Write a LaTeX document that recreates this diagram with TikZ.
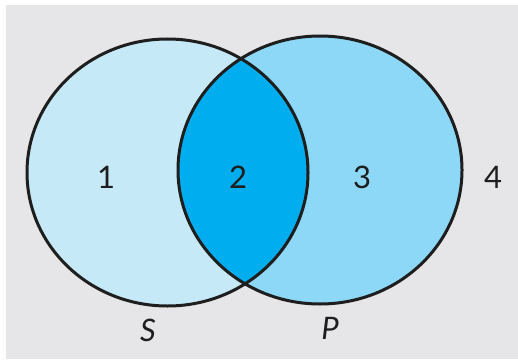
\documentclass[tikz,border=0pt]{standalone}
\usepackage{fontspec}
\setmainfont{Lato}
\definecolor{bgray}{HTML}{E6E6E8}
\definecolor{sblue}{HTML}{C6E9F8}
\definecolor{pblue}{HTML}{8DD8F6}
\definecolor{iblue}{HTML}{00AEEF}
\definecolor{edge}{HTML}{1E1E1E}
\tikzset{
  outline/.style={draw=edge, line width=3pt},
  num/.style={font=\fontsize{31}{31}\selectfont, text=edge, inner sep=0pt},
  lbl/.style={font=\fontsize{31}{31}\selectfont\itshape, text=edge, inner sep=0pt}
}
\begin{document}
\begin{tikzpicture}[x=1pt,y=-1pt]
\useasboundingbox (0,0) rectangle (518,361);
\fill[white] (0,0) rectangle (518,361);
\fill[bgray] (6,5) rectangle (518,359);
% fills
\fill[sblue] (167.5,172.5) ellipse [x radius=140.5, y radius=133.5];
\fill[pblue] (320,170) ellipse [x radius=142, y radius=134];
\begin{scope}
  \clip (167.5,172.5) ellipse [x radius=140.5, y radius=133.5];
  \fill[iblue] (320,170) ellipse [x radius=142, y radius=134];
\end{scope}
% outlines
\draw[outline] (167.5,172.5) ellipse [x radius=140.5, y radius=133.5];
\draw[outline] (320,170) ellipse [x radius=142, y radius=134];
% labels
\node[num] (r1) at (106,177) {1};
\node[num] (r2) at (238,177) {2};
\node[num] (r3) at (362,177) {3};
\node[num] (r4) at (493,177) {4};
\node[lbl] (s) at (148,330) {S};
\node[lbl] (p) at (330,328) {P};
\end{tikzpicture}
\end{document}
